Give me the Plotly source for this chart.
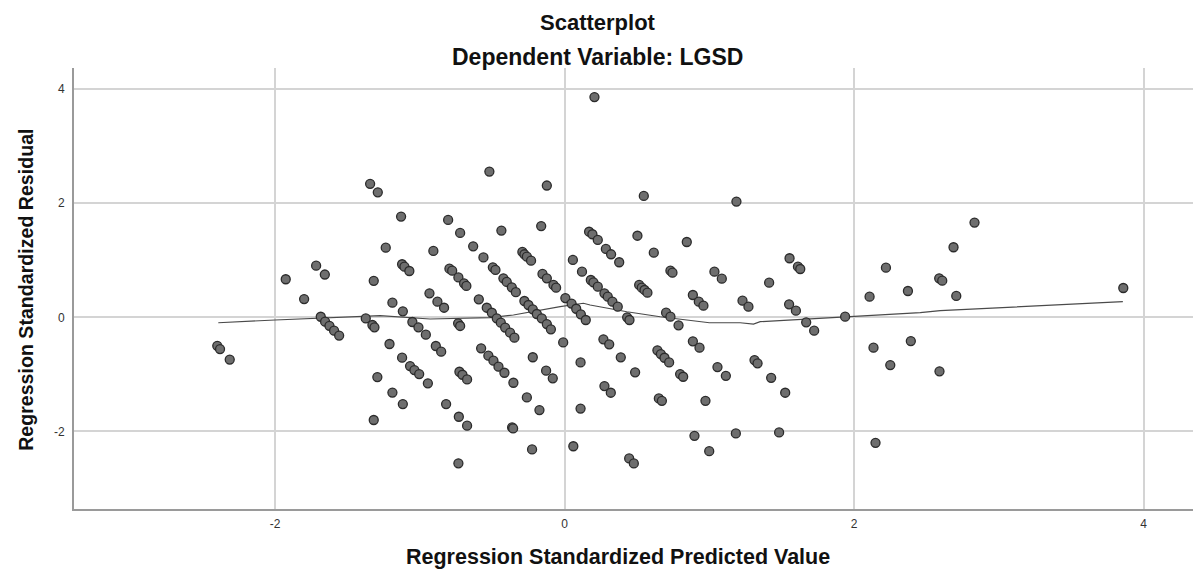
import plotly.graph_objects as go

# Regression standardized predicted values (x) and residuals (y)
predicted = [
    -1.344, -1.291, -1.236, -1.717, -1.657, -1.927, -1.319, -1.80, -1.685, -1.655,
    -1.625, -1.593, -1.558, -1.374, -1.328, -1.314, -2.40, -2.381, -2.314, -1.294,
    -1.319,
    -0.52, -0.123, -1.13, -0.805, -0.722, -0.437, -0.162, -0.907, -0.632, -0.561,
    -0.292, -0.278, -0.261, -0.232, 0.057, 0.12, -1.123, -1.107, -1.073, -0.796,
    -0.777, -0.734, -0.695, -0.679, -0.496, -0.478, -0.423, -0.40, -0.365, -0.337,
    -0.153, -0.123, -0.077, -0.059, 0.005, 0.048, 0.08, -0.934, -0.879, -0.833,
    -1.19, -1.118, -0.593, -0.538, -0.503, -0.469, -0.441, -0.411, -0.377, -0.347,
    -0.278, -0.25, -0.22, -0.192, -0.158, -0.123, -0.095, -0.01, -1.052, -1.01,
    -0.959, -0.736, -0.722, -1.21, -0.89, -0.853, -0.577, -0.527, -0.492, -0.457,
    -0.416, -0.22, -0.128, -0.082, 0.11, -1.123, -1.068, -1.038, -1.005, -0.945,
    -0.727, -0.706, -0.674, -0.354, -0.261, -0.174, -1.19, -1.118, -0.819, -0.731,
    -0.674, -0.363, -0.356, 0.11, -0.225, 0.06, -0.734,
    0.547, 1.187, 0.169, 0.192, 0.229, 0.285, 0.321, 0.377, 0.503, 0.616,
    0.844, 0.181, 0.199, 0.229, 0.275, 0.298, 0.33, 0.367, 0.515, 0.533,
    0.552, 0.572, 0.731, 0.745, 1.035, 1.086, 0.886, 0.927, 0.959, 1.229,
    1.27, 0.112, 0.146, 0.432, 0.448, 0.701, 0.731, 0.787, 0.268, 0.308,
    0.388, 0.487, 0.641, 0.665, 0.69, 0.722, 0.886, 0.932, 0.798, 0.819,
    1.056, 1.114, 1.312, 1.333, 0.275, 0.319, 0.651, 0.672, 0.973, 0.897,
    1.183, 0.999, 0.446, 0.478,
    1.554, 1.612, 1.628, 1.413, 1.551, 1.598, 1.669, 1.724, 1.938, 2.107,
    2.22, 2.372, 2.134, 2.392, 2.25, 1.427, 1.524, 1.482, 2.148,
    2.832, 2.687, 2.588, 2.609, 2.706, 3.86, 2.59,
    0.206,
]
residual = [
    2.34, 2.19, 1.22, 0.905, 0.75, 0.667, 0.64, 0.32, 0.01, -0.077,
    -0.15, -0.235, -0.32, -0.02, -0.135, -0.175, -0.50, -0.556, -0.74, -1.047,
    -1.80,
    2.555, 2.31, 1.765, 1.707, 1.48, 1.52, 1.60, 1.163, 1.245, 1.05,
    1.146, 1.105, 1.063, 0.993, 1.005, 0.80, 0.93, 0.888, 0.812, 0.853,
    0.818, 0.70, 0.596, 0.55, 0.877, 0.83, 0.684, 0.62, 0.526, 0.44,
    0.76, 0.684, 0.567, 0.52, 0.338, 0.24, 0.15, 0.42, 0.274, 0.168,
    0.256, 0.105, 0.316, 0.168, 0.08, -0.018, -0.094, -0.18, -0.27, -0.357,
    0.286, 0.216, 0.14, 0.058, -0.018, -0.118, -0.21, -0.44, -0.082, -0.175,
    -0.305, -0.105, -0.152, -0.468, -0.503, -0.603, -0.544, -0.673, -0.76, -0.866,
    -0.972, -0.70, -0.936, -1.07, -0.79, -0.708, -0.854, -0.925, -0.995, -1.158,
    -0.954, -1.007, -1.088, -1.147, -1.404, -1.626, -1.32, -1.52, -1.52, -1.743,
    -1.90, -1.93, -1.947, -1.60, -2.316, -2.26, -2.56,
    2.128, 2.028, 1.50, 1.456, 1.356, 1.198, 1.105, 0.965, 1.43, 1.133,
    1.32, 0.654, 0.614, 0.537, 0.42, 0.362, 0.274, 0.186, 0.567, 0.52,
    0.479, 0.432, 0.818, 0.782, 0.80, 0.677, 0.391, 0.274, 0.204, 0.291,
    0.186, 0.053, -0.047, 0.0, -0.047, 0.081, 0.011, -0.14, -0.386, -0.474,
    -0.702, -0.965, -0.579, -0.644, -0.709, -0.79, -0.421, -0.533, -0.995, -1.042,
    -0.872, -1.025, -0.749, -0.807, -1.205, -1.322, -1.421, -1.463, -1.463, -2.077,
    -2.035, -2.346, -2.474, -2.561,
    1.035, 0.888, 0.847, 0.607, 0.228, 0.116, -0.088, -0.235, 0.011, 0.362,
    0.87, 0.461, -0.533, -0.416, -0.837, -1.06, -1.322, -2.018, -2.20,
    1.66, 1.228, 0.684, 0.643, 0.374, 0.514, -0.947,
    3.86,
]

# Loess fit line
fit_x = [-2.393, -2.0, -1.275, -0.93, -0.515, -0.354, -0.031, 0.13, 0.176, 0.43,
         0.66, 1.0, 1.213, 1.305, 1.351, 1.938, 2.457, 2.595, 3.857]
fit_y = [-0.095, -0.047, 0.028, -0.03, -0.007, 0.04, 0.186, 0.246, 0.216, 0.098,
         0.01, -0.095, -0.095, -0.118, -0.077, 0.011, 0.081, 0.116, 0.274]

x_ticks = [-2, 0, 2, 4]
y_ticks = [-2, 0, 2, 4]

FONT = "Liberation Sans, Arial, sans-serif"

fig = go.Figure()
fig.add_trace(go.Scatter(
    x=fit_x, y=fit_y, mode="lines",
    line=dict(color="#4a4a4a", width=1.2),
    hoverinfo="skip", showlegend=False,
))
fig.add_trace(go.Scatter(
    x=predicted, y=residual, mode="markers",
    marker=dict(size=9, color="#6e6e6e", line=dict(color="#2b2b2b", width=1.3)),
    showlegend=False,
))

fig.update_layout(
    width=1193, height=564,
    margin=dict(l=66, r=1, t=60, b=63),
    paper_bgcolor="white", plot_bgcolor="white",
    font=dict(family=FONT, color="#222"),
    showlegend=False,
    annotations=[
        dict(text="<b>Scatterplot</b>", xref="paper", yref="paper",
             x=0.465, y=1, yshift=46, xanchor="center", yanchor="middle",
             showarrow=False, font=dict(size=22, color="#111", family=FONT)),
        dict(text="<b>Dependent Variable: LGSD</b>", xref="paper", yref="paper",
             x=0.465, y=1, yshift=11, xanchor="center", yanchor="middle",
             showarrow=False, font=dict(size=23, color="#111", family=FONT)),
        dict(text="<b>Regression Standardized Predicted Value</b>", xref="paper", yref="paper",
             x=0.483, y=0, yshift=-48, xanchor="center", yanchor="middle",
             showarrow=False, font=dict(size=21.5, color="#111", family=FONT)),
        dict(text="<b>Regression Standardized Residual</b>", xref="paper", yref="paper",
             x=0, xshift=-48, y=0.497, xanchor="center", yanchor="middle",
             textangle=-90, showarrow=False,
             font=dict(size=19.6, color="#111", family=FONT)),
    ],
)
fig.update_xaxes(
    range=[-3.39, 4.39], tickvals=x_ticks, ticktext=[str(v) for v in x_ticks],
    showgrid=True, gridcolor="#d4d4d4", gridwidth=1.5,
    showline=True, linecolor="#9a9a9a", linewidth=2, mirror=False,
    zeroline=False, ticks="", ticklabelstandoff=3,
    tickfont=dict(size=12, color="#333", family=FONT),
)
fig.update_yaxes(
    range=[-3.36, 4.37], tickvals=y_ticks, ticktext=[str(v) for v in y_ticks],
    showgrid=True, gridcolor="#d4d4d4", gridwidth=1.5,
    showline=True, linecolor="#9a9a9a", linewidth=2, mirror=False,
    zeroline=False, ticks="", ticklabelstandoff=5,
    tickfont=dict(size=12, color="#333", family=FONT),
)

fig.write_html("out.html")
